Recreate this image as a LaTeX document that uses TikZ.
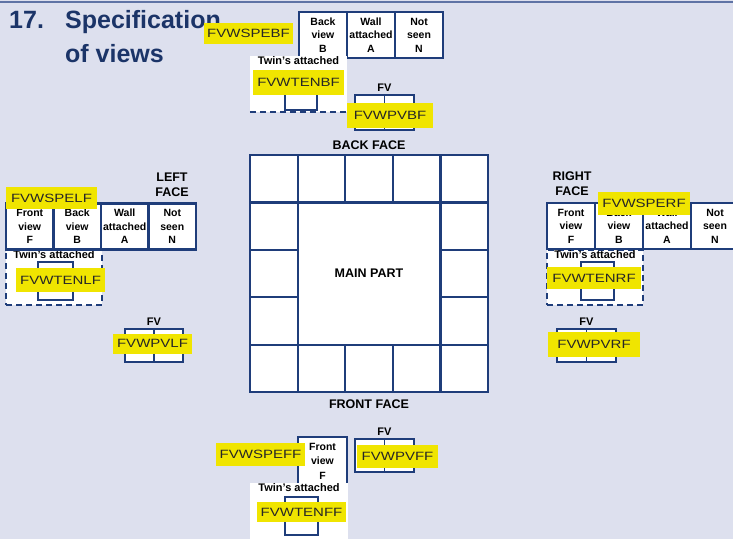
\documentclass[tikz,border=0pt]{standalone}
\usepackage{fontspec}
\setmainfont{Liberation Sans}
\usepackage{graphicx}
\usetikzlibrary{positioning}
\definecolor{paper}{RGB}{221,224,238}
\definecolor{navy}{RGB}{31,61,122}
\definecolor{titlenavy}{RGB}{27,52,104}
\definecolor{marker}{RGB}{240,229,0}
\definecolor{rulecol}{RGB}{95,115,165}
\newcommand{\tagtxt}[1]{\scalebox{1.25}[1]{#1}}

\begin{document}
\begin{tikzpicture}[x=1pt, y=-1pt,
    cell/.style={draw=navy, line width=2.2pt, fill=white, inner sep=0pt, minimum width=47.5, minimum height=46, align=center, font=\fontsize{10.5}{13.5}\selectfont\bfseries},
    twin/.style={draw=navy, line width=1.5pt, dash pattern=on 6pt off 4pt, fill=white, inner sep=0pt},
    holder/.style={draw=navy, line width=2pt, inner sep=0pt},
    pvbox/.style={draw=navy, line width=2.2pt, fill=white, inner sep=0pt, minimum width=59, minimum height=33},
    tag/.style={fill=marker, inner sep=0pt, text=black!85, font=\fontsize{12}{12}\selectfont},
    lbl/.style={inner sep=1pt, font=\fontsize{12.5}{15}\selectfont\bfseries, align=center},
    small/.style={inner sep=1pt, font=\fontsize{11}{13}\selectfont\bfseries},
    grid/.style={navy, line width=2.2pt}]

        % page %
        \fill[paper] (0,0) rectangle (733,539);
        \useasboundingbox (0,0) rectangle (733,539);
        \draw[rulecol, line width=1.5pt] (0,2) -- (733,2);

        % title %
        \node[anchor=base west, inner sep=0pt, text=titlenavy, font=\fontsize{25}{25}\selectfont\bfseries] (num) at (9,28) {17.};
        \node[anchor=base west, inner sep=0pt, text=titlenavy, font=\fontsize{25}{25}\selectfont\bfseries] (title) at (65,28) {Specification};
        \node[anchor=base west, inner sep=0pt, text=titlenavy, font=\fontsize{25}{25}\selectfont\bfseries] (title2) at (65,62) {of views};

        % main part %
        \fill[white] (250,155) rectangle (488,392);
        \node[draw=navy, line width=2.2pt, inner sep=0pt, minimum width=142.8, minimum height=142.2, font=\fontsize{12.5}{15}\selectfont\bfseries] (main) at (369,273.5) {MAIN PART};
        \draw[grid] (250,202.4) -- (488,202.4) (250,344.6) -- (488,344.6);
        \draw[grid] (297.6,155) -- (297.6,392) (440.4,155) -- (440.4,392);
        \draw[grid] (345.2,155) -- (345.2,202.4) (392.8,155) -- (392.8,202.4);
        \draw[grid] (345.2,344.6) -- (345.2,392) (392.8,344.6) -- (392.8,392);
        \draw[grid] (250,249.8) -- (297.6,249.8) (250,297.2) -- (297.6,297.2);
        \draw[grid] (440.4,249.8) -- (488,249.8) (440.4,297.2) -- (488,297.2);
        \draw[grid] (250,155) rectangle (488,392);
        \node[lbl] (backface) at (369,145) {BACK FACE};
        \node[lbl] (frontface) at (369,404) {FRONT FACE};

        % back face %
        \node[cell, minimum width=48] (bb) at (323,35) {Back\\view\\B};
        \node[cell, minimum width=48] (ba) at (371,35) {Wall\\attached\\A};
        \node[cell, minimum width=48] (bn) at (419,35) {Not\\seen\\N};
        \node[fill=white, inner sep=0pt, minimum width=97, minimum height=56] (twinb) at (298.5,84) {};
        \draw[navy, line width=1.5pt, dash pattern=on 6pt off 4pt] (twinb.south west) -- (twinb.south east);
        \node[small, below=0pt of twinb.north] {Twin's attached};
        \node[holder, minimum width=32, minimum height=28] (holdb) at (301,96) {};
        \node[pvbox, minimum height=35] (pvb) at (384.5,112.5) {};
        \draw[navy, line width=1.5pt] (pvb.north) -- (pvb.south);
        \node[small, above=1pt of pvb] {FV};

        % left face %
        \node[twin, minimum width=96, minimum height=55] (twinl) at (54,277.5) {};
        \node[small, below=0pt of twinl.north] {Twin's attached};
        \node[holder, minimum width=35, minimum height=38] (holdl) at (55.5,281) {};
        \node[cell] (lf) at (29.75,226.5) {Front\\view\\F};
        \node[cell] (lb) at (77.25,226.5) {Back\\view\\B};
        \node[cell] (la) at (124.75,226.5) {Wall\\attached\\A};
        \node[cell] (ln) at (172.25,226.5) {Not\\seen\\N};
        \node[lbl] (leftface) at (172,184.5) {LEFT\\FACE};
        \node[pvbox, minimum width=58] (pvl) at (154,345.5) {};
        \draw[navy, line width=1.5pt] (pvl.north) -- (pvl.south);
        \node[small, above=1pt of pvl] {FV};

        % right face %
        \node[twin, minimum width=96, minimum height=55] (twinr) at (595,277.5) {};
        \node[small, below=0pt of twinr.north] {Twin's attached};
        \node[holder, minimum width=33, minimum height=38] (holdr) at (597.5,281) {};
        \node[cell, minimum width=48] (rf) at (571,226) {Front\\view\\F};
        \node[cell, minimum width=48] (rb) at (619,226) {Back\\view\\B};
        \node[cell, minimum width=48] (ra) at (667,226) {Wall\\attached\\A};
        \node[cell, minimum width=48] (rn) at (715,226) {Not\\seen\\N};
        \node[lbl] (rightface) at (572,184) {RIGHT\\FACE};
        \node[pvbox] (pvr) at (586.5,345.5) {};
        \draw[navy, line width=1.5pt] (pvr.north) -- (pvr.south);
        \node[small, above=1pt of pvr] {FV};

        % front face %
        \node[cell, minimum width=49, minimum height=48, font=\fontsize{10.5}{14.5}\selectfont\bfseries] (ff) at (322.5,461) {Front\\view\\F};
        \node[fill=white, inner sep=0pt, minimum width=98, minimum height=62] (twinf) at (299,514) {};
        \node[small, below=0pt of twinf.north] {Twin's attached};
        \node[holder, minimum width=33, minimum height=38] (holdf) at (301.5,516) {};
        \node[pvbox] (pvf) at (384.5,455.5) {};
        \draw[navy, line width=1.5pt] (pvf.north) -- (pvf.south);
        \node[small, above=1pt of pvf] {FV};

        % marker tags %
        \node[tag, minimum width=89, minimum height=21] (spebf) at (248.5,33.5) {\tagtxt{FVWSPEBF}};
        \node[tag, minimum width=91, minimum height=25] (tenbf) at (298.5,82.5) {\tagtxt{FVWTENBF}};
        \node[tag, minimum width=86, minimum height=25] (pvbf) at (390,115.5) {\tagtxt{FVWPVBF}};
        \node[tag, minimum width=91, minimum height=22] (spelf) at (51.5,198) {\tagtxt{FVWSPELF}};
        \node[tag, minimum width=89, minimum height=24] (tenlf) at (60.5,280) {\tagtxt{FVWTENLF}};
        \node[tag, minimum width=79, minimum height=20] (pvlf) at (152.5,343.5) {\tagtxt{FVWPVLF}};
        \node[tag, minimum width=92, minimum height=23] (sperf) at (644,203.5) {\tagtxt{FVWSPERF}};
        \node[tag, minimum width=94, minimum height=22] (tenrf) at (594,278) {\tagtxt{FVWTENRF}};
        \node[tag, minimum width=92, minimum height=25] (pvrf) at (594,344.5) {\tagtxt{FVWPVRF}};
        \node[tag, minimum width=89, minimum height=23] (speff) at (260.5,454.5) {\tagtxt{FVWSPEFF}};
        \node[tag, minimum width=81, minimum height=23] (pvff) at (397.5,456.5) {\tagtxt{FVWPVFF}};
        \node[tag, minimum width=89, minimum height=20] (tenff) at (301.5,512) {\tagtxt{FVWTENFF}};
\end{tikzpicture}
\end{document}
